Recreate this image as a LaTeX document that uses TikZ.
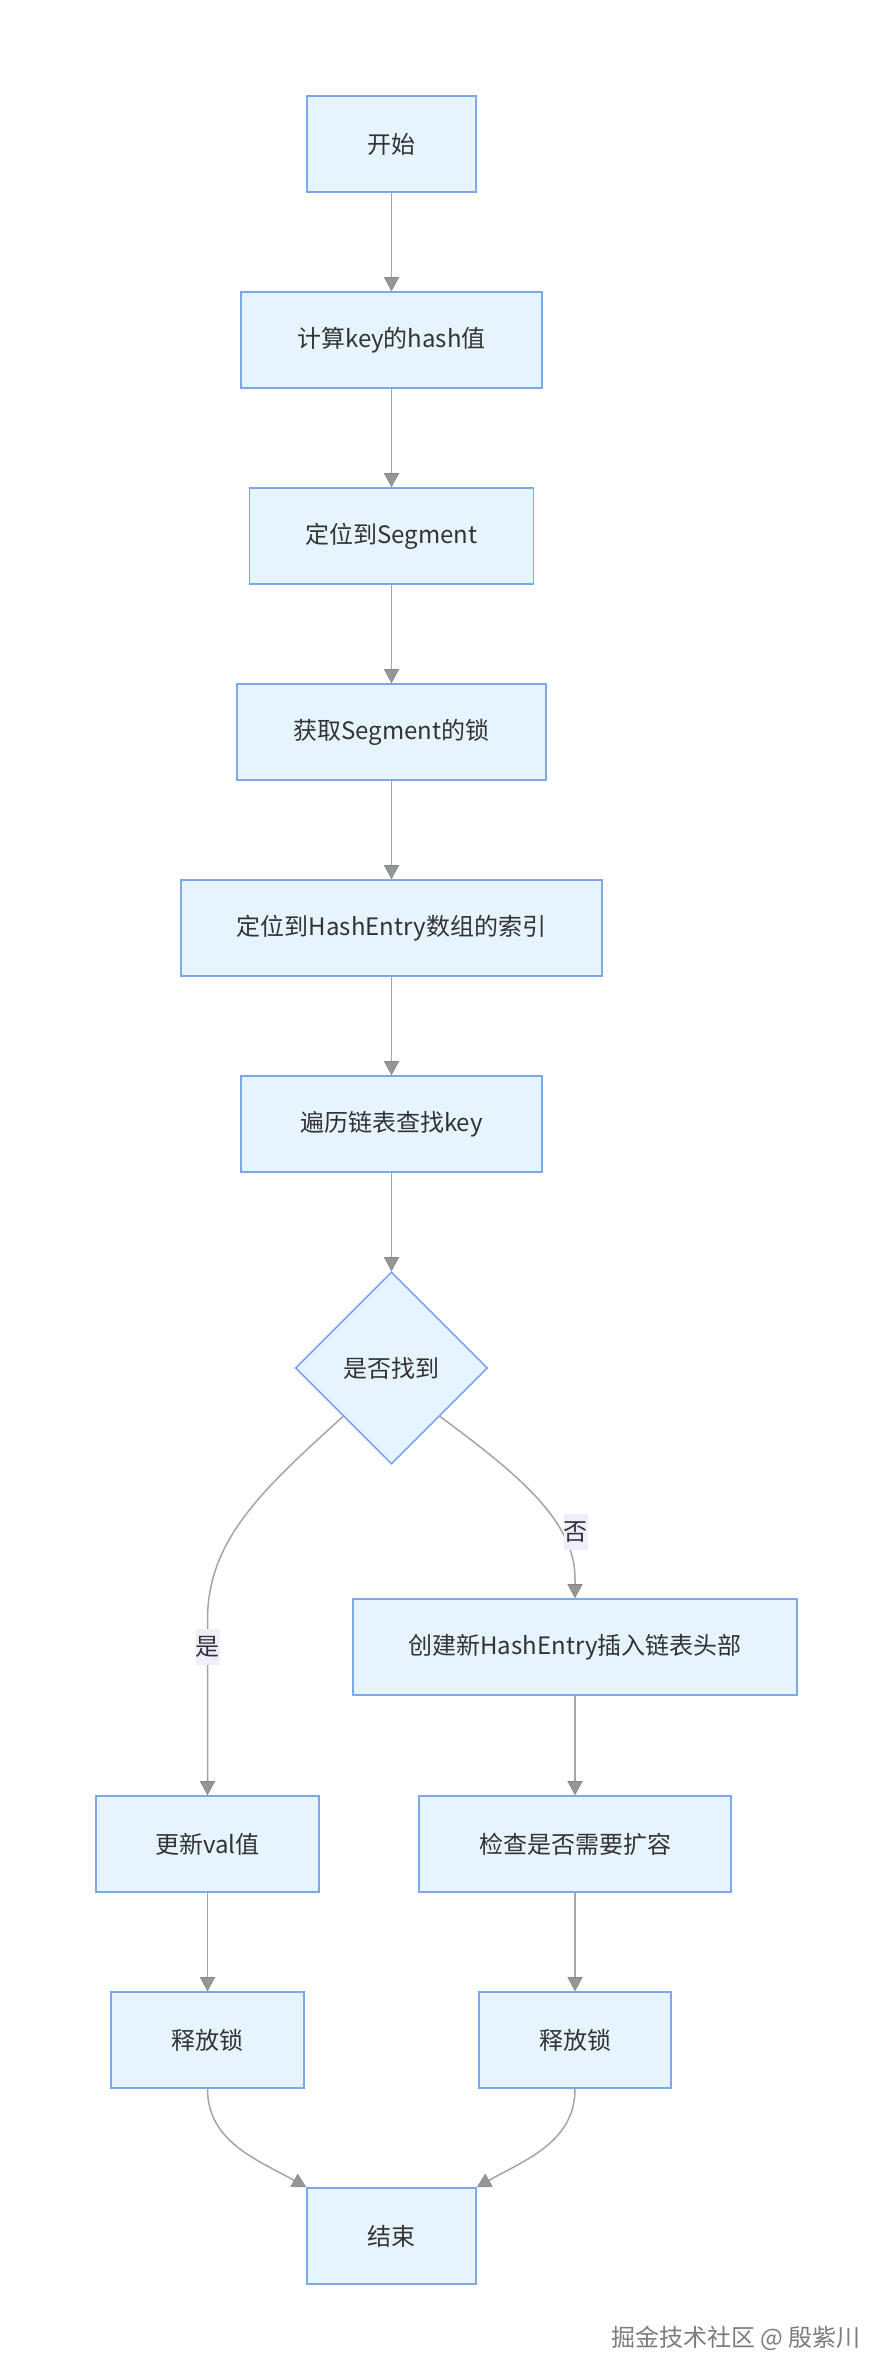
\documentclass[tikz,border=0pt]{standalone}
\usepackage{fontspec}
\newfontfamily\cjk{Noto Sans CJK SC}
\usetikzlibrary{shapes.geometric,arrows.meta,calc}
\definecolor{boxfill}{RGB}{230,244,255}
\definecolor{boxline}{RGB}{125,168,235}
\definecolor{edgecol}{RGB}{165,165,165}
\definecolor{tipcol}{RGB}{150,150,150}
\definecolor{lblfill}{RGB}{241,237,252}
\definecolor{txtcol}{RGB}{51,51,51}
\definecolor{wmcol}{RGB}{125,125,125}
\tikzset{
  every node/.style={font=\cjk\fontsize{24}{28}\selectfont, text=txtcol},
  procbox/.style={rectangle, draw=boxline, fill=boxfill, line width=1.6pt,
    minimum height=96pt, inner xsep=0pt, inner ysep=0pt},
  decbox/.style={diamond, draw=boxline, fill=boxfill, line width=1.6pt,
    minimum width=192pt, minimum height=192pt, inner sep=0pt},
  flow/.style={draw=edgecol, line width=1.5pt,
    -{Triangle[width=15pt,length=14pt,fill=tipcol,color=tipcol!90!black,line width=0.6pt]}},
  edgelbl/.style={fill=lblfill, inner xsep=0pt, inner ysep=0pt, minimum height=36pt, minimum width=24pt},
}
\begin{document}
\begin{tikzpicture}[x=1pt,y=-1pt]
\useasboundingbox[fill=white] (0,0) rectangle (893,2380);

\node[procbox, minimum width=169pt] (start) at (391.5,144) {开始};
\node[procbox, minimum width=301pt] (hash) at (391.5,340) {计算key的hash值};
\node[procbox, minimum width=284pt] (seg) at (391.5,536) {定位到Segment};
\node[procbox, minimum width=309pt] (lock) at (391.5,732) {获取Segment的锁};
\node[procbox, minimum width=421pt] (idx) at (391.5,928) {定位到HashEntry数组的索引};
\node[procbox, minimum width=301pt] (trav) at (391.5,1124) {遍历链表查找key};
\node[decbox] (dec) at (391.5,1368) {是否找到};
\node[procbox, minimum width=444pt] (cre) at (575,1647) {创建新HashEntry插入链表头部};
\node[procbox, minimum width=223pt] (upd) at (207.5,1844) {更新val值};
\node[procbox, minimum width=312pt] (chk) at (575,1844) {检查是否需要扩容};
\node[procbox, minimum width=193pt] (rel1) at (207.5,2040) {释放锁};
\node[procbox, minimum width=192pt] (rel2) at (575,2040) {释放锁};
\node[procbox, minimum width=169pt] (end) at (391.5,2236) {结束};

\draw[flow] (start) -- (hash);
\draw[flow] (hash) -- (seg);
\draw[flow] (seg) -- (lock);
\draw[flow] (lock) -- (idx);
\draw[flow] (idx) -- (trav);
\draw[flow] (trav) -- (dec);

\coordinate (ybend) at (207.5,1620);
\coordinate (nbend) at (575,1578);
\draw[flow] (dec.south west) .. controls (262,1490) and (207.5,1540) .. (ybend) -- (upd.north);
\draw[flow] (dec.south east) .. controls (515,1472) and (575,1520) .. (nbend) -- (cre.north);
\node[edgelbl] (lyes) at (207.5,1647) {是};
\node[edgelbl] (lno) at (575.5,1532) {否};

\draw[flow] (cre) -- (chk);
\draw[flow] (upd) -- (rel1);
\draw[flow] (chk) -- (rel2);

\draw[flow] (rel1.south) .. controls (207.5,2142) and (258,2160) .. (end.north west);
\draw[flow] (rel2.south) .. controls (575,2142) and (525,2160) .. (end.north east);

\node[text=wmcol, anchor=east] (wm) at (864,2338) {掘金技术社区 @ 殷紫川};
\end{tikzpicture}
\end{document}
